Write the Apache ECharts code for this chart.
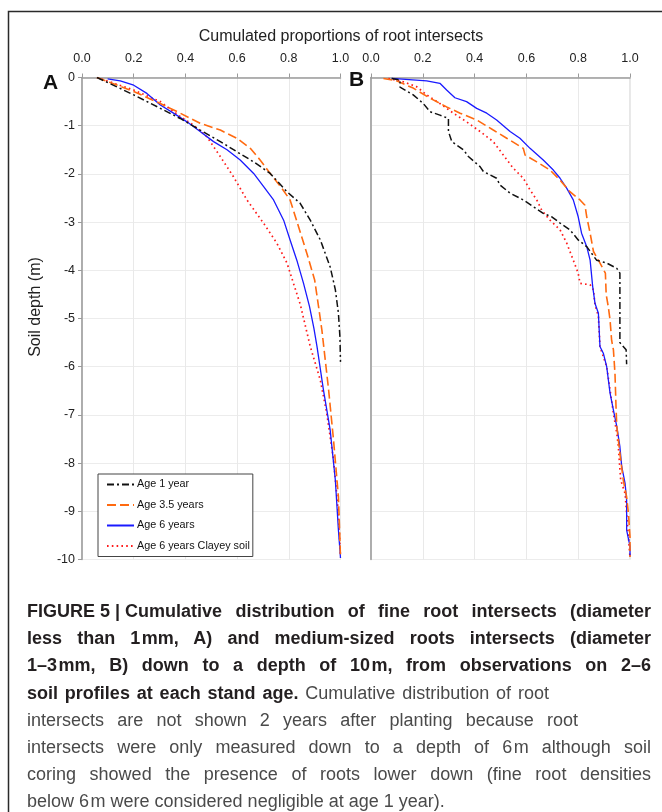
<!DOCTYPE html>
<html>
<head>
<meta charset="utf-8">
<script src="https://cdn.jsdelivr.net/npm/echarts@6.0.0/dist/echarts.min.js"></script>
<style>
  html, body { margin: 0; padding: 0; background: #fff; }
  #wrap { position: relative; width: 662px; height: 812px; overflow: hidden; }
  #chart { position: absolute; left: 0; top: 0; width: 662px; height: 812px; }
  #caption { position: absolute; left: 27px; top: 598px; width: 624px;
    font-family: 'Liberation Sans Narrow', 'Liberation Sans', Arial, sans-serif;
    font-size: 18px; line-height: 27.2px; color: #4a4a4a; }
  #caption .ln { white-space: nowrap; }
  #caption .j { text-align: justify; text-align-last: justify; white-space: normal; }
  #caption b { color: #231f20; }
  #caption .ib { display: inline-block; }
</style>
</head>
<body>
<div id="wrap">
  <div id="chart"></div>
  <div id="caption">
    <div class="ln j"><b><span class="ib">FIGURE 5 |&nbsp;</span>Cumulative distribution of fine root intersects (diameter</b></div>
    <div class="ln j"><b>less than 1&#8202;mm, A) and medium-sized roots intersects (diameter</b></div>
    <div class="ln j"><b>1–3&#8202;mm, B) down to a depth of 10&#8202;m, from observations on 2–6</b></div>
    <div class="ln j" style="width:522px"><b>soil profiles at each stand age.</b> Cumulative distribution of root</div>
    <div class="ln j" style="width:551px">intersects are not shown 2 years after planting because root</div>
    <div class="ln j">intersects were only measured down to a depth of 6&#8202;m although soil</div>
    <div class="ln j">coring showed the presence of roots lower down (fine root densities</div>
    <div class="ln">below 6&#8202;m were considered negligible at age 1 year).</div>
  </div>
</div>
<script>
// ---- tick labels ----
const xTicks = [0, 0.2, 0.4, 0.6, 0.8, 1.0];
const yTicks = [0, -1, -2, -3, -4, -5, -6, -7, -8, -9, -10];
const seriesNames = ['Age 1 year', 'Age 3.5 years', 'Age 6 years', 'Age 6 years Clayey soil'];

// ---- Panel A: fine roots  [cumulated proportion, depth (m)] ----
const fineAge1 = [[0.058,0],[0.2,-0.36],[0.303,-0.64],[0.38,-0.85],[0.457,-1.09],[0.535,-1.33],[0.599,-1.54],[0.664,-1.75],[0.728,-1.99],[0.793,-2.37],[0.844,-2.61],[0.883,-2.96],[0.922,-3.37],[0.96,-3.93],[0.98,-4.4],[0.992,-4.89],[0.998,-5.4],[1.0,-5.9]];
const fineAge35 = [[0.058,0],[0.2,-0.29],[0.303,-0.54],[0.38,-0.74],[0.457,-0.95],[0.535,-1.09],[0.599,-1.26],[0.651,-1.47],[0.689,-1.71],[0.728,-1.99],[0.773,-2.3],[0.805,-2.54],[0.838,-3.1],[0.87,-3.65],[0.9,-4.2],[0.915,-4.75],[0.928,-5.24],[0.954,-6.48],[0.973,-7.52],[0.992,-8.7],[1.0,-9.95]];
const fineAge6 = [[0.099,-0.03],[0.148,-0.07],[0.2,-0.16],[0.251,-0.33],[0.303,-0.57],[0.354,-0.74],[0.406,-0.92],[0.457,-1.12],[0.509,-1.33],[0.561,-1.5],[0.612,-1.71],[0.664,-1.99],[0.702,-2.26],[0.741,-2.54],[0.78,-2.96],[0.805,-3.37],[0.831,-3.79],[0.857,-4.27],[0.88,-4.75],[0.897,-5.2],[0.909,-5.58],[0.934,-6.48],[0.96,-7.31],[0.98,-8.35],[0.992,-9.39],[1.0,-9.97]];
const fineClay = [[0.058,0],[0.2,-0.26],[0.303,-0.5],[0.38,-0.81],[0.432,-0.99],[0.483,-1.23],[0.535,-1.64],[0.586,-2.06],[0.638,-2.54],[0.702,-3.02],[0.754,-3.44],[0.793,-3.85],[0.818,-4.27],[0.844,-4.7],[0.883,-5.58],[0.922,-6.28],[0.947,-6.97],[0.973,-7.93],[0.992,-9.04],[1.0,-9.95]];

// ---- Panel B: medium-sized roots ----
const medAge1 = [[0.08,-0.02],[0.112,-0.05],[0.112,-0.2],[0.163,-0.36],[0.202,-0.54],[0.228,-0.71],[0.266,-0.78],[0.299,-0.85],[0.299,-1.12],[0.312,-1.33],[0.357,-1.5],[0.376,-1.64],[0.421,-1.85],[0.434,-1.95],[0.485,-2.09],[0.498,-2.23],[0.537,-2.4],[0.588,-2.54],[0.627,-2.68],[0.665,-2.82],[0.698,-2.89],[0.73,-3.02],[0.768,-3.16],[0.8,-3.37],[0.833,-3.51],[0.871,-3.79],[0.91,-3.85],[0.949,-3.96],[0.961,-4.06],[0.961,-5.5],[0.968,-5.51],[0.985,-5.65],[0.987,-5.95]];
const medAge35 = [[0.048,-0.02],[0.099,-0.07],[0.163,-0.22],[0.228,-0.43],[0.292,-0.61],[0.344,-0.74],[0.408,-0.88],[0.472,-1.09],[0.524,-1.26],[0.588,-1.47],[0.595,-1.61],[0.64,-1.75],[0.691,-1.92],[0.73,-2.13],[0.768,-2.37],[0.807,-2.54],[0.826,-2.65],[0.833,-2.89],[0.846,-3.23],[0.859,-3.61],[0.878,-3.79],[0.905,-4.06],[0.908,-4.5],[0.916,-4.75],[0.923,-5.03],[0.929,-5.45],[0.936,-5.65],[0.942,-6.14],[0.946,-6.83],[0.949,-7.24],[0.961,-7.8],[0.974,-8.35],[0.987,-8.7],[0.994,-9.04],[1.0,-9.53],[1.0,-9.95]];
const medAge6 = [[0.08,-0.02],[0.215,-0.07],[0.266,-0.12],[0.292,-0.26],[0.324,-0.42],[0.369,-0.5],[0.408,-0.64],[0.447,-0.74],[0.485,-0.88],[0.537,-1.12],[0.575,-1.26],[0.614,-1.47],[0.665,-1.71],[0.704,-1.92],[0.73,-2.09],[0.756,-2.3],[0.781,-2.54],[0.8,-2.89],[0.813,-3.23],[0.833,-3.51],[0.846,-3.79],[0.856,-4.34],[0.865,-4.69],[0.878,-4.89],[0.884,-5.58],[0.897,-5.72],[0.91,-6.0],[0.923,-6.55],[0.936,-6.9],[0.949,-7.24],[0.961,-7.66],[0.968,-8.07],[0.981,-8.42],[0.987,-8.77],[0.987,-9.39],[1.0,-9.73],[1.0,-9.94]];
const medClay = [[0.067,-0.02],[0.125,-0.09],[0.176,-0.19],[0.215,-0.36],[0.266,-0.54],[0.318,-0.74],[0.369,-0.92],[0.421,-1.12],[0.472,-1.33],[0.511,-1.61],[0.549,-1.88],[0.588,-2.09],[0.614,-2.33],[0.64,-2.54],[0.659,-2.75],[0.691,-2.96],[0.73,-3.16],[0.756,-3.44],[0.781,-3.79],[0.8,-4.06],[0.807,-4.27],[0.846,-4.3],[0.859,-4.41],[0.865,-4.72],[0.878,-4.95],[0.884,-5.58],[0.91,-6.0],[0.936,-6.97],[0.949,-7.38],[0.955,-7.66],[0.964,-8.35],[0.981,-8.63],[0.987,-9.04],[0.994,-9.53],[1.0,-9.95]];

const FONT = "'Liberation Sans', Arial, sans-serif";
const styles = [
  { color: '#111111', type: [7, 3, 2, 3], width: 1.5 },
  { color: '#ff6a10', type: [9, 4], width: 1.6 },
  { color: '#1a1aff', type: 'solid', width: 1.3 },
  { color: '#ff1a1a', type: [1.6, 3.2], width: 1.7 }
];

function xAxisFor(gi) {
  return {
    gridIndex: gi, type: 'value', position: 'top', min: 0, max: 1, interval: 0.2,
    axisLine: { show: true, lineStyle: { color: '#9a9a9a', width: 1.5 } },
    axisTick: { show: true, length: 4, lineStyle: { color: '#9a9a9a' } },
    axisLabel: { fontFamily: FONT, fontSize: 12.5, color: '#222', margin: 12,
      formatter: v => v.toFixed(1) },
    splitLine: { show: true, lineStyle: { color: '#e9e9e9', width: 1 } }
  };
}
function yAxisFor(gi, showLabels) {
  return {
    gridIndex: gi, type: 'value', min: -10, max: 0, interval: 1,
    axisLine: { show: true, onZero: false, lineStyle: { color: '#9a9a9a', width: 1.5 } },
    axisTick: { show: showLabels, length: 4, lineStyle: { color: '#9a9a9a' } },
    axisLabel: { show: showLabels, fontFamily: FONT, fontSize: 12.5, color: '#222', margin: 7 },
    splitLine: { show: true, lineStyle: { color: '#ececec', width: 1 } }
  };
}
function mkSeries(name, data, idx, gi) {
  const s = styles[idx];
  return {
    name: name, type: 'line', xAxisIndex: gi, yAxisIndex: gi, data: data,
    symbol: 'none', showSymbol: false, smooth: false, animation: false, silent: true,
    lineStyle: { color: s.color, type: s.type, width: s.width },
    itemStyle: { color: s.color }, z: 3 + (3 - idx)
  };
}

const chart = echarts.init(document.getElementById('chart'), null, { renderer: 'canvas' });
chart.setOption({
  animation: false,
  grid: [
    { left: 82, top: 77.5, width: 258.5, height: 482, show: true, borderColor: '#cfcfcf', borderWidth: 1, containLabel: false },
    { left: 371, top: 77.5, width: 259, height: 482, show: true, borderColor: '#cfcfcf', borderWidth: 1, containLabel: false }
  ],
  xAxis: [xAxisFor(0), xAxisFor(1)],
  yAxis: [yAxisFor(0, true), yAxisFor(1, false)],
  legend: {
    data: seriesNames, orient: 'vertical', left: 98, top: 474,
    itemWidth: 27, itemHeight: 10, itemGap: 9.5, padding: [5, 3, 5, 8],
    borderColor: '#444', borderWidth: 1, backgroundColor: '#fff', borderRadius: 0,
    itemStyle: { color: 'transparent', opacity: 0, borderWidth: 0 },
    textStyle: { fontFamily: FONT, fontSize: 10.8, color: '#111', padding: [0, 0, 0, -2] },
    selectedMode: false
  },
  series: [
    mkSeries(seriesNames[0], fineAge1, 0, 0),
    mkSeries(seriesNames[1], fineAge35, 1, 0),
    mkSeries(seriesNames[2], fineAge6, 2, 0),
    mkSeries(seriesNames[3], fineClay, 3, 0),
    mkSeries(seriesNames[0], medAge1, 0, 1),
    mkSeries(seriesNames[1], medAge35, 1, 1),
    mkSeries(seriesNames[2], medAge6, 2, 1),
    mkSeries(seriesNames[3], medClay, 3, 1)
  ],
  graphic: [
    { type: 'rect', shape: { x: 8.5, y: 11.5, width: 700, height: 900 }, style: { fill: 'none', stroke: '#2a2a2a', lineWidth: 1.5 }, silent: true },
    { type: 'text', x: 341, y: 37, style: { text: 'Cumulated proportions of root intersects', font: "16px 'Liberation Sans', Arial, sans-serif", fill: '#222', align: 'center', verticalAlign: 'middle' } },
    { type: 'text', x: 36, y: 307, rotation: Math.PI / 2, style: { text: 'Soil depth (m)', font: "16px 'Liberation Sans', Arial, sans-serif", fill: '#222', align: 'center', verticalAlign: 'middle' } },
    { type: 'text', left: 43, top: 73, style: { text: 'A', font: "bold 21px 'Liberation Sans', Arial, sans-serif", fill: '#111' } },
    { type: 'text', left: 349, top: 70, style: { text: 'B', font: "bold 21px 'Liberation Sans', Arial, sans-serif", fill: '#111' } }
  ]
});
</script>
</body>
</html>
